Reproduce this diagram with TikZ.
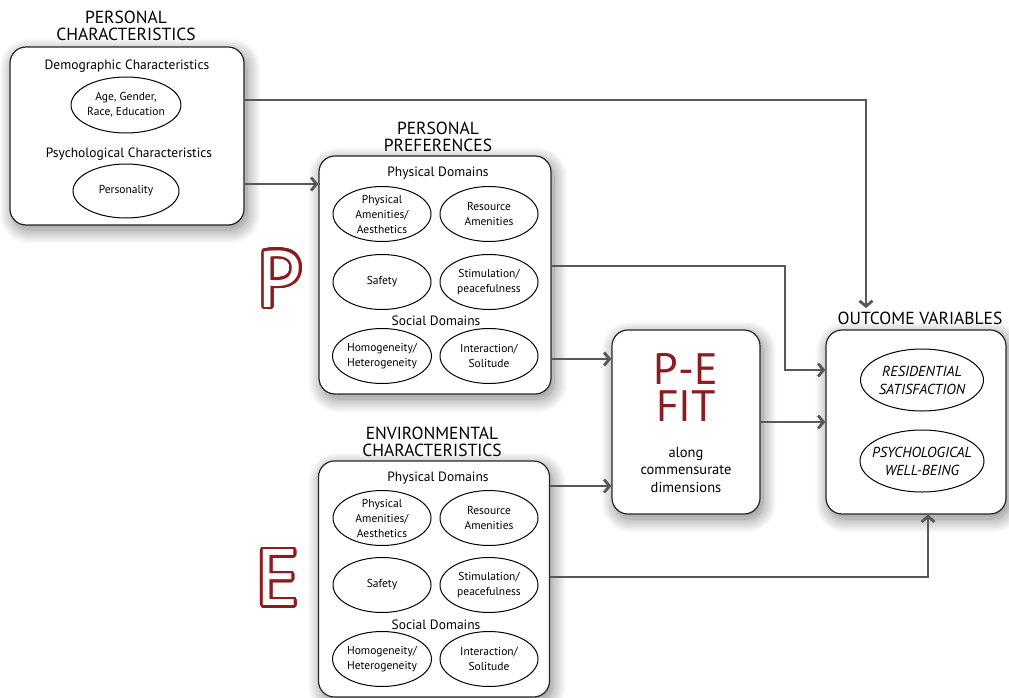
\documentclass[tikz,border=0pt]{standalone}
\usepackage{fontspec}
\setmainfont{PT Sans}
\usepackage{contour}
\usetikzlibrary{shapes.geometric,arrows.meta,shadows.blur}
\definecolor{fitred}{RGB}{140,28,32}
\definecolor{linegray}{RGB}{88,88,88}
\contourlength{2.6pt}
\contournumber{32}

\begin{document}
\begin{tikzpicture}[
  x=1pt, y=-1pt,
  panel/.style={rectangle, draw=black!85, line width=1.2pt, rounded corners=16, fill=white,
    blur shadow={shadow xshift=3pt, shadow yshift=-5pt, shadow blur radius=14pt,
      shadow blur steps=24, shadow opacity=50}},
  oval/.style={ellipse, draw, line width=1pt, inner sep=0pt, minimum width=98, minimum height=55,
    align=center, font=\fontsize{11.5}{15}\selectfont},
  result/.style={oval, inner xsep=-9pt, minimum height=62, font=\fontsize{14.5}{18}\selectfont\itshape},
  heading/.style={font=\fontsize{13.5}{16}\selectfont},
  title/.style={align=center, font=\fontsize{17.5}{17}\selectfont},
  conn/.style={draw=linegray, line width=2pt, -{Straight Barb[length=5.5pt, width=13pt, line width=2.8pt]}},
  bigletter/.style={font=\fontsize{80}{80}\selectfont, inner sep=0pt}
]
\useasboundingbox (0,0) rectangle (1009,698);

% boxes
\node[panel, minimum width=234, minimum height=178] (pc) at (127,136) {};
\node[panel, minimum width=232, minimum height=238] (pp) at (435,275) {};
\node[panel, minimum width=231, minimum height=236] (ec) at (434,579) {};
\node[panel, minimum width=148, minimum height=184] (fit) at (686,422) {};
\node[panel, minimum width=180, minimum height=184] (out) at (916,422) {};

\node[title] (pctitle) at (126,26) {PERSONAL\\CHARACTERISTICS};
\node[title] (pptitle) at (438,137) {PERSONAL\\PREFERENCES};
\node[title] (ectitle) at (432,442) {ENVIRONMENTAL\\CHARACTERISTICS};
\node[title] (outtitle) at (920,318) {OUTCOME VARIABLES};

% personal characteristics
\node[heading] (demo) at (127,66) {Demographic Characteristics};
\node[oval, minimum width=106, minimum height=56] (age) at (126,105) {Age, Gender,\\Race, Education};
\node[heading] (psych) at (129,154) {Psychological Characteristics};
\node[oval, minimum width=106, minimum height=54] (pers) at (126,191) {Personality};

% personal preferences
\node[heading] (ppphys) at (438,173) {Physical Domains};
\node[oval] (ppamen) at (382,214) {Physical\\Amenities/\\Aesthetics};
\node[oval] (ppres) at (489,214) {Resource\\Amenities};
\node[oval] (ppsafe) at (382,282) {Safety};
\node[oval] (ppstim) at (489,282) {Stimulation/\\peacefulness};
\node[heading] (ppsoc) at (436,321) {Social Domains};
\node[oval] (pphomo) at (382,356) {Homogeneity/\\Heterogeneity};
\node[oval] (ppint) at (489,356) {Interaction/\\Solitude};

% environmental characteristics
\node[heading] (ecphys) at (438,478) {Physical Domains};
\node[oval] (ecamen) at (382,518) {Physical\\Amenities/\\Aesthetics};
\node[oval] (ecres) at (489,518) {Resource\\Amenities};
\node[oval] (ecsafe) at (382,585) {Safety};
\node[oval] (ecstim) at (489,585) {Stimulation/\\peacefulness};
\node[heading] (ecsoc) at (436,625) {Social Domains};
\node[oval] (echomo) at (382,659) {Homogeneity/\\Heterogeneity};
\node[oval] (ecint) at (489,659) {Interaction/\\Solitude};

% fit and outcomes
\node[align=center, text=fitred, font=\fontsize{44}{37}\selectfont] (pefit) at (686,387) {P-E\\FIT};
\node[align=center, font=\fontsize{14.5}{17.5}\selectfont] (along) at (686,470) {along\\commensurate\\dimensions};
\node[result, minimum width=123] (resid) at (922,380) {RESIDENTIAL\\SATISFACTION};
\node[result, minimum width=124] (wellb) at (922,461) {PSYCHOLOGICAL\\WELL-BEING};

\node[bigletter] (bigp) at (280,280) {\contour{fitred}{\textcolor{white}{P}}};
\node[bigletter] (bige) at (278,579) {\contour{fitred}{\textcolor{white}{E}}};

% connectors
\draw[conn] (pc.east |- 0,100) -| (866,0 |- outtitle.north);
\draw[conn] (pc.east |- 0,184) -- (pp.west |- 0,184);
\draw[conn] (pp.east |- 0,266) -| (785,370) -- (out.west |- 0,370);
\draw[conn] (pp.east |- 0,359) -- (fit.west |- 0,359);
\draw[conn] (ec.east |- 0,486) -- (fit.west |- 0,486);
\draw[conn] (fit.east) -- (out.west);
\draw[conn] (ec.east |- 0,577) -| (928,0 |- out.south);
\end{tikzpicture}
\end{document}
